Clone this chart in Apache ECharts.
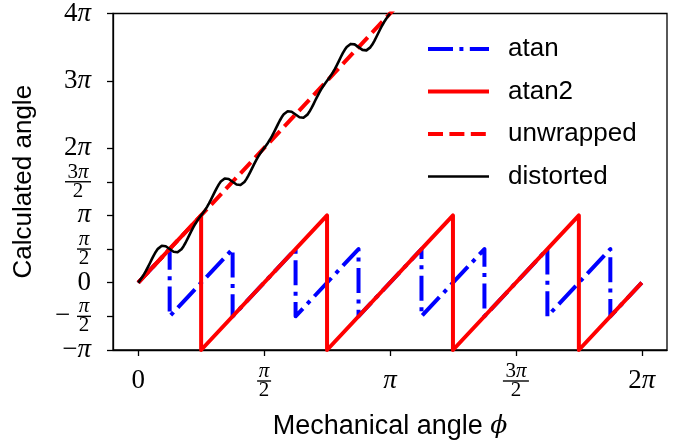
<!DOCTYPE html>
<html>
<head>
<meta charset="utf-8">
<script src="https://cdn.jsdelivr.net/npm/echarts@6/dist/echarts.min.js"></script>
<style>
  html, body { margin: 0; padding: 0; background: #fff; }
  #chart { width: 689px; height: 448px; }
</style>
</head>
<body>
<div id="chart"></div>
<script>
"use strict";

// all angles in units of pi
var xTicks = [0, 0.5, 1, 1.5, 2];
var xTickLabels = ['0', 'π/2', 'π', '3π/2', '2π'];
var yTicks = [-1, -0.5, 0, 0.5, 1, 1.5, 2, 3, 4];
var yTickLabels = ['−π', '−π/2', '0', 'π/2', 'π', '3π/2', '2π', '3π', '4π'];

var atanPhi = [0, 0.125, 0.125, 0.375, 0.375, 0.625, 0.625, 0.875, 0.875,
    1.125, 1.125, 1.375, 1.375, 1.625, 1.625, 1.875, 1.875, 2];
var atanVal = [0, 0.5, -0.5, 0.5, -0.5, 0.5, -0.5, 0.5, -0.5,
    0.5, -0.5, 0.5, -0.5, 0.5, -0.5, 0.5, -0.5, 0];

var atan2Phi = [0, 0.25, 0.25, 0.75, 0.75, 1.25, 1.25, 1.75, 1.75, 2];
var atan2Val = [0, 1, -1, 1, -1, 1, -1, 1, -1, 0];

var unwrappedPhi = [0, 2];
var unwrappedVal = [0, 8];

// distorted angle, sampled every pi/128 of mechanical angle
var distortedStep = 1 / 128;
var distortedVal = [
    0.000, 0.039, 0.081, 0.127, 0.178, 0.234, 0.293, 0.353, 0.410, 0.461, 0.503, 0.532, 0.548, 0.551, 0.541, 0.523,
    0.500, 0.477, 0.459, 0.449, 0.452, 0.468, 0.497, 0.539, 0.590, 0.647, 0.707, 0.766, 0.822, 0.873, 0.919, 0.961,
    1.000, 1.039, 1.081, 1.127, 1.178, 1.234, 1.293, 1.353, 1.410, 1.461, 1.503, 1.532, 1.548, 1.551, 1.541, 1.523,
    1.500, 1.477, 1.459, 1.449, 1.452, 1.468, 1.497, 1.539, 1.590, 1.647, 1.707, 1.766, 1.822, 1.873, 1.919, 1.961,
    2.000, 2.039, 2.081, 2.127, 2.178, 2.234, 2.293, 2.353, 2.410, 2.461, 2.503, 2.532, 2.548, 2.551, 2.541, 2.523,
    2.500, 2.477, 2.459, 2.449, 2.452, 2.468, 2.497, 2.539, 2.590, 2.647, 2.707, 2.766, 2.822, 2.873, 2.919, 2.961,
    3.000, 3.039, 3.081, 3.127, 3.178, 3.234, 3.293, 3.353, 3.410, 3.461, 3.503, 3.532, 3.548, 3.551, 3.541, 3.523,
    3.500, 3.477, 3.459, 3.449, 3.452, 3.468, 3.497, 3.539, 3.590, 3.647, 3.707, 3.766, 3.822, 3.873, 3.919, 3.961,
    4.000
];

function pairs(xs, ys) {
    return ys.map(function (y, i) { return [xs[i], y]; });
}

var distortedData = distortedVal.map(function (y, i) {
    return [i * distortedStep, y];
});

// turn '3π/2' style strings into rich text (stacked fractions)
function texLabel(s) {
    var minus = false;
    if (s.charAt(0) === '−') {
        minus = true;
        s = s.slice(1);
    }
    function part(t, dig, pi) {
        return t.split('').map(function (c) {
            return c === 'π' ? '{' + pi + '|π}' : '{' + dig + '|' + c + '}';
        }).join('');
    }
    if (s.indexOf('/') < 0) {
        return (minus ? '{d|−}' : '') + part(s, 'd', 'p');
    }
    var num = s.split('/')[0];
    var den = s.split('/')[1];
    var bar = num.length > 1 ? 'b2' : 'b1';
    var sp = minus ? '{sp|}' : '';
    return sp + part(num, 'fd', 'fp') + '\n'
        + (minus ? '{mm|−}' : '') + '{' + bar + '|}' + '\n'
        + sp + part(den, 'fd', 'fp');
}

var serif = 'Liberation Serif';
var sans = 'Liberation Sans';
var rich = {
    d: {fontFamily: serif, fontSize: 27, lineHeight: 22, color: '#000'},
    p: {fontFamily: serif, fontStyle: 'italic', fontSize: 27, lineHeight: 22, color: '#000'},
    fd: {fontFamily: serif, fontSize: 21, lineHeight: 14, align: 'center', color: '#000'},
    fp: {fontFamily: serif, fontStyle: 'italic', fontSize: 21, lineHeight: 14, align: 'center', color: '#000'},
    b1: {width: 14, height: 1.4, lineHeight: 5, backgroundColor: '#000', align: 'center'},
    b2: {width: 26, height: 1.4, lineHeight: 5, backgroundColor: '#000', align: 'center'},
    sp: {width: 22, lineHeight: 14, align: 'left'},
    mm: {fontFamily: serif, fontSize: 27, lineHeight: 5, width: 22, align: 'left', color: '#000'}
};

var chart = echarts.init(document.getElementById('chart'));
chart.setOption({
    animation: false,
    backgroundColor: '#fff',
    grid: {
        left: 113, right: 22, top: 10, bottom: 98,
        show: true,
        borderColor: '#000',
        borderWidth: 1.3
    },
    legend: {
        orient: 'vertical',
        left: 421,
        top: 29,
        itemWidth: 61,
        itemHeight: 14,
        itemGap: 12.5,
        itemStyle: {opacity: 0},
        textStyle: {
            fontFamily: sans,
            fontSize: 26,
            lineHeight: 30,
            color: '#000',
            padding: [0, 0, 0, 14]
        },
        data: [
            {name: 'atan', lineStyle: {width: 4}},
            {name: 'atan2', lineStyle: {width: 4}},
            {name: 'unwrapped', lineStyle: {width: 4}},
            {name: 'distorted', lineStyle: {width: 2.6}}
        ]
    },
    xAxis: {
        type: 'value',
        min: -0.1,
        max: 2.1,
        name: 'Mechanical angle {phi|ϕ}',
        nameLocation: 'middle',
        nameGap: 63,
        nameTextStyle: {
            fontFamily: sans,
            fontSize: 27,
            color: '#000',
            rich: {
                phi: {fontFamily: 'DejaVu Serif', fontStyle: 'italic', fontSize: 25, color: '#000'}
            }
        },
        splitLine: {show: false},
        axisLine: {show: true, onZero: false, lineStyle: {color: '#000', width: 1.3}},
        axisTick: {show: true, length: 6, customValues: xTicks, lineStyle: {color: '#000', width: 1.3}},
        axisLabel: {
            customValues: xTicks,
            margin: 31,
            verticalAlign: 'middle',
            hideOverlap: false,
            formatter: function (v) {
                return texLabel(xTickLabels[xTicks.indexOf(v)]);
            },
            rich: rich
        }
    },
    yAxis: {
        type: 'value',
        min: -1,
        max: 4,
        name: 'Calculated angle',
        nameLocation: 'middle',
        nameGap: 76,
        nameTextStyle: {fontFamily: sans, fontSize: 26, color: '#000'},
        splitLine: {show: false},
        axisLine: {show: true, onZero: false, lineStyle: {color: '#000', width: 1.3}},
        axisTick: {show: true, length: 6, customValues: yTicks, lineStyle: {color: '#000', width: 1.3}},
        axisLabel: {
            customValues: yTicks,
            margin: 22,
            hideOverlap: false,
            formatter: function (v) {
                return texLabel(yTickLabels[yTicks.indexOf(v)]);
            },
            rich: rich
        }
    },
    series: [{
        name: 'atan',
        type: 'line',
        symbol: 'none',
        data: pairs(atanPhi, atanVal),
        itemStyle: {color: '#0000ff'},
        lineStyle: {color: '#0000ff', width: 4, type: [25, 6.4, 4, 6.4], cap: 'butt', join: 'round'}
    }, {
        name: 'atan2',
        type: 'line',
        symbol: 'none',
        data: pairs(atan2Phi, atan2Val),
        itemStyle: {color: '#ff0000'},
        lineStyle: {color: '#ff0000', width: 4, type: 'solid', join: 'round'}
    }, {
        name: 'unwrapped',
        type: 'line',
        symbol: 'none',
        data: pairs(unwrappedPhi, unwrappedVal),
        itemStyle: {color: '#ff0000'},
        lineStyle: {color: '#ff0000', width: 4, type: [15, 6.4], cap: 'butt'}
    }, {
        name: 'distorted',
        type: 'line',
        symbol: 'none',
        data: distortedData,
        itemStyle: {color: '#000'},
        lineStyle: {color: '#000', width: 2.6, join: 'round'}
    }]
});
</script>
</body>
</html>
